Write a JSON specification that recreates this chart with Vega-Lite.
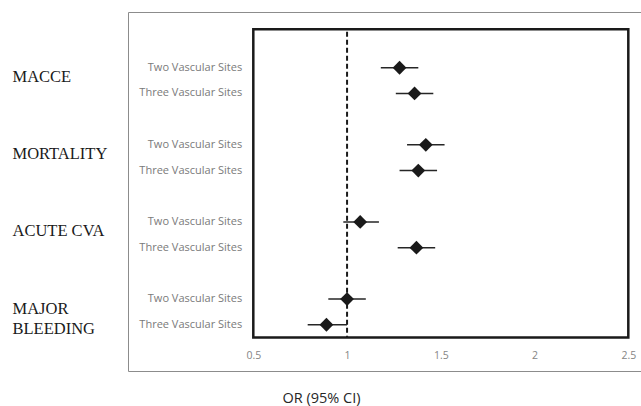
{
  "$schema": "https://vega.github.io/schema/vega-lite/v6.json",
  "width": 517,
  "height": 359,
  "autosize": {"type": "none"},
  "padding": {"left": 128, "top": 12, "right": 0, "bottom": 35},
  "background": "white",
  "config": {
    "view": {"stroke": "#8c8c8c", "strokeWidth": 1},
    "font": "Open Sans"
  },
  "data": {
    "values": [
      {"outcome": "MACCE", "site": "Two Vascular Sites", "row": "MACCE|Two Vascular Sites", "or": 1.28, "lo": 1.18, "hi": 1.38},
      {"outcome": "MACCE", "site": "Three Vascular Sites", "row": "MACCE|Three Vascular Sites", "or": 1.36, "lo": 1.26, "hi": 1.46},
      {"outcome": "MORTALITY", "site": "Two Vascular Sites", "row": "MORTALITY|Two Vascular Sites", "or": 1.42, "lo": 1.32, "hi": 1.52},
      {"outcome": "MORTALITY", "site": "Three Vascular Sites", "row": "MORTALITY|Three Vascular Sites", "or": 1.38, "lo": 1.28, "hi": 1.48},
      {"outcome": "ACUTE CVA", "site": "Two Vascular Sites", "row": "ACUTE CVA|Two Vascular Sites", "or": 1.07, "lo": 0.98, "hi": 1.17},
      {"outcome": "ACUTE CVA", "site": "Three Vascular Sites", "row": "ACUTE CVA|Three Vascular Sites", "or": 1.37, "lo": 1.27, "hi": 1.47},
      {"outcome": "MAJOR BLEEDING", "site": "Two Vascular Sites", "row": "MAJOR BLEEDING|Two Vascular Sites", "or": 1.0, "lo": 0.9, "hi": 1.1},
      {"outcome": "MAJOR BLEEDING", "site": "Three Vascular Sites", "row": "MAJOR BLEEDING|Three Vascular Sites", "or": 0.89, "lo": 0.79, "hi": 1.0}
    ]
  },
  "layer": [
    {
      "encoding": {
        "y": {
          "field": "row",
          "type": "nominal",
          "scale": {
            "type": "band",
            "domain": ["top", "MACCE|Two Vascular Sites", "MACCE|Three Vascular Sites", "gap1", "MORTALITY|Two Vascular Sites", "MORTALITY|Three Vascular Sites", "gap2", "ACUTE CVA|Two Vascular Sites", "ACUTE CVA|Three Vascular Sites", "gap3", "MAJOR BLEEDING|Two Vascular Sites", "MAJOR BLEEDING|Three Vascular Sites"],
            "paddingInner": 0,
            "paddingOuter": 0.984,
            "align": 0.34
          },
          "axis": {
            "orient": "left",
            "offset": -115.7,
            "title": null,
            "ticks": false,
            "domain": false,
            "grid": false,
            "labelAlign": "right",
            "labelBaseline": "middle",
            "labelPadding": 2,
            "labelFont": "Open Sans",
            "labelFontSize": 11,
            "labelColor": "#7a7a7a",
            "labelExpr": "indexof(datum.value, '|') >= 0 ? split(datum.value, '|')[1] : ''"
          }
        }
      },
      "layer": [
        {
          "data": {"values": [{}]},
          "mark": {"type": "rect", "fill": null, "stroke": "#1a1a1a", "strokeWidth": 2.5},
          "encoding": {
            "x": {"datum": 0.5, "type": "quantitative"},
            "x2": {"datum": 2.5},
            "y": {"datum": "top", "type": "nominal", "bandPosition": 0},
            "y2": {"datum": "MAJOR BLEEDING|Three Vascular Sites", "bandPosition": 1}
          }
        },
        {
          "data": {"values": [{}]},
          "mark": {"type": "rule", "stroke": "#1a1a1a", "strokeWidth": 2, "strokeDash": [5, 3]},
          "encoding": {
            "x": {"datum": 1, "type": "quantitative"},
            "y": {"datum": "top", "type": "nominal", "bandPosition": 0.1},
            "y2": {"datum": "MAJOR BLEEDING|Three Vascular Sites", "bandPosition": 1}
          }
        },
        {
          "mark": {"type": "rule", "stroke": "#262626", "strokeWidth": 1.5},
          "encoding": {
            "x": {"field": "lo", "type": "quantitative"},
            "x2": {"field": "hi"}
          }
        },
        {
          "mark": {"type": "point", "shape": "diamond", "filled": true, "size": 190, "color": "#1a1a1a", "opacity": 1},
          "encoding": {
            "x": {
              "field": "or",
              "type": "quantitative",
              "scale": {"domain": [-0.1683, 2.589], "nice": false, "zero": false},
              "axis": {
                "orient": "bottom",
                "offset": -34.3,
                "values": [0.5, 1, 1.5, 2, 2.5],
                "format": "~g",
                "ticks": false,
                "domain": false,
                "grid": false,
                "labelFlush": false,
                "labelPadding": 13.5,
                "labelFont": "Open Sans",
                "labelFontSize": 10.5,
                "labelColor": "#858585",
                "title": "OR (95% CI)",
                "titleFont": "Open Sans",
                "titleFontSize": 14.5,
                "titleFontWeight": "normal",
                "titleColor": "#262626",
                "titleX": 193,
                "titleY": 61.3,
                "titleAlign": "center",
                "titleBaseline": "middle"
              }
            }
          }
        }
      ]
    },
    {
      "mark": {"type": "point", "opacity": 0},
      "encoding": {
        "y": {
          "field": "row",
          "type": "nominal",
          "scale": {
            "type": "band",
            "domain": ["top", "MACCE|Two Vascular Sites", "MACCE|Three Vascular Sites", "gap1", "MORTALITY|Two Vascular Sites", "MORTALITY|Three Vascular Sites", "gap2", "ACUTE CVA|Two Vascular Sites", "ACUTE CVA|Three Vascular Sites", "gap3", "MAJOR BLEEDING|Two Vascular Sites", "MAJOR BLEEDING|Three Vascular Sites"],
            "paddingInner": 0,
            "paddingOuter": 0.984,
            "align": 0.34
          },
          "axis": {
            "orient": "left",
            "offset": 0,
            "title": null,
            "ticks": false,
            "domain": false,
            "grid": false,
            "labelAlign": "left",
            "labelBaseline": "middle",
            "labelPadding": 116,
            "labelOffset": 9.5,
            "labelFont": "Liberation Serif",
            "labelFontSize": 16.5,
            "labelLineHeight": 20,
            "labelColor": "#1a1a1a",
            "labelLimit": 0,
            "labelExpr": "indexof(datum.value, '|Two') >= 0 ? (indexof(datum.value, 'MAJOR') == 0 ? ['MAJOR', 'BLEEDING'] : split(datum.value, '|')[0]) : ''"
          }
        }
      }
    }
  ],
  "resolve": {"scale": {"y": "independent"}}
}
